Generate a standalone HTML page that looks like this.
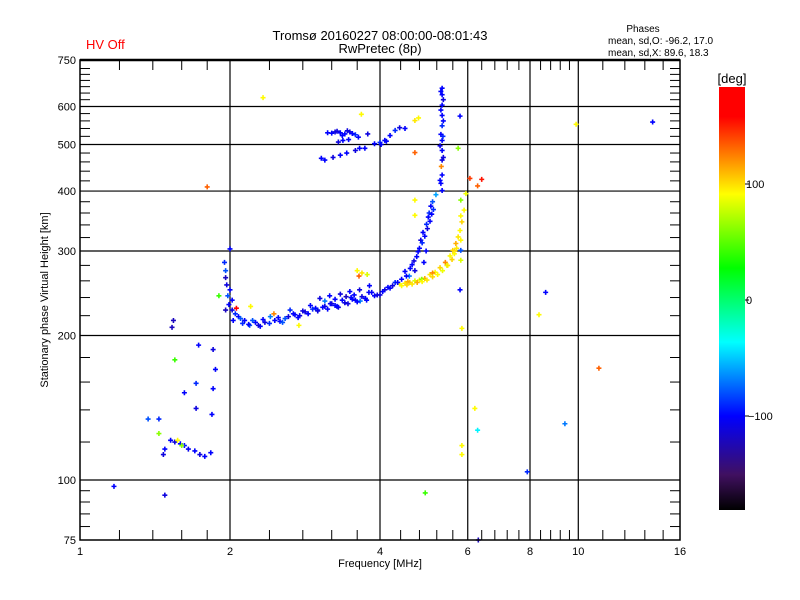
<!DOCTYPE html>
<html><head><meta charset="utf-8"><style>
body{margin:0;background:#fff;}
svg{display:block;font-family:"Liberation Sans","DejaVu Sans",sans-serif;}
</style></head><body>
<svg id="chart" width="800" height="600" viewBox="0 0 800 600">
<defs><linearGradient id="cb" x1="0" y1="1" x2="0" y2="0">
<stop offset="0" stop-color="#000000"/><stop offset="0.083" stop-color="#401060"/><stop offset="0.222" stop-color="#0000ff"/><stop offset="0.397" stop-color="#00ffff"/><stop offset="0.572" stop-color="#00ff00"/><stop offset="0.747" stop-color="#ffff00"/><stop offset="0.93" stop-color="#ff0000"/><stop offset="1" stop-color="#ff0000"/>
</linearGradient></defs>
<text x="86" y="49" font-size="13" fill="#ff0000">HV Off</text>
<text x="380" y="40" font-size="13" text-anchor="middle">Tromsø 20160227 08:00:00-08:01:43</text>
<text x="380" y="53" font-size="13" text-anchor="middle">RwPretec (8p)</text>
<text x="643" y="32" font-size="10" text-anchor="middle">Phases</text>
<text x="608" y="44" font-size="10">mean, sd,O: -96.2, 17.0</text>
<text x="608" y="56" font-size="10">mean, sd,X:  89.6, 18.3</text>
<g id="grid"></g>
<g id="ticks"></g>
<g id="marks"></g>
<rect x="80" y="60" width="600" height="480" fill="none" stroke="#000" stroke-width="1.5"/>
<line x1="80" y1="60" x2="680" y2="60" stroke="#000" stroke-width="2.5"/>
<text x="380" y="567" font-size="11" text-anchor="middle">Frequency [MHz]</text>
<text transform="translate(48,300) rotate(-90)" font-size="11" text-anchor="middle">Stationary phase Virtual Height [km]</text>
<rect x="719" y="87" width="26" height="423" fill="url(#cb)"/>
<text x="732" y="83" font-size="13" text-anchor="middle">[deg]</text>
<g id="cbticks"></g>
</svg>
<script>
const xTicks=[1,2,4,6,8,10,16];
const xGrid=[2,4,6,8,10];
const xMinor=[1.2,1.4,1.6,1.8,2.4,2.8,3.2,3.6,4.4,4.8,5.2,5.6,6.4,6.8,7.2,7.6,8.4,8.8,9.2,9.6,11.2,12.4,13.6,14.8];
const yTicks=[75,100,200,300,400,500,600,750];
const yGrid=[100,200,300,400,500,600];
const yMinor=[80,85,90,95,120,140,160,180,220,240,260,280,320,340,360,380,420,440,460,480,520,540,560,580,620,640,660,680,700,720];
const cbLabels=[100,0,-100];
const freqs=[1.52,1.55,1.59,1.62,1.65,1.70,1.74,1.78,1.48,1.47,1.57,1.60,1.83,1.44,1.44,1.73,1.85,1.87,1.85,1.71,1.71,1.84,1.62,1.37,1.54,1.53,1.55,1.17,1.48,4.93,7.9,6.3,
1.95,1.96,1.96,2.0,2.02,1.98,1.99,2.02,2.05,2.08,2.1,2.0,1.9,1.96,2.03,1.97,2.06,2.12,
2.14,2.25,2.35,2.46,2.58,2.7,2.83,2.97,3.1,3.25,3.4,3.57,3.74,3.9,4.09,4.19,4.29,2.19,2.3,2.41,2.52,2.64,2.76,2.9,3.0,3.18,3.3,3.5,3.65,3.8,4.0,
3.03,3.17,3.33,3.48,3.64,3.81,3.1,3.25,3.42,3.55,
4.49,4.64,4.77,4.83,4.88,4.96,5.0,5.06,5.1,5.18,4.9,4.7,4.58,4.95,5.02,
5.33,5.33,5.33,5.33,5.33,5.33,5.33,5.33,5.33,5.33,5.28,5.28,5.31,5.35,
3.6,3.68,3.77,3.63,4.38,4.49,4.59,4.7,4.8,4.92,5.04,5.16,5.28,5.41,5.53,5.6,5.68,5.74,5.79,5.84,5.9,5.95,4.55,4.85,5.1,5.45,5.65,
5.81,5.81,5.81,5.81,5.81,
3.14,3.25,3.33,3.4,3.48,3.57,3.37,3.1,3.22,3.33,3.43,3.57,3.64,3.73,3.9,4.0,4.09,4.19,4.29,4.38,4.49,3.05,
2.33,1.8,6.06,6.4,6.28,8.6,8.34,11,9.9,14.1,9.4,6.2,6.28,5.84,5.84,5.84,5.79,4.7,4.7,4.7,4.7,4.78,5.79,5.74,3.67,2.2,2.45,2.75,
2.18,2.22,2.28,2.33,2.4,2.5,2.55,2.62,2.68,2.74,2.8,2.87,2.93,3.0,3.07,3.14,3.2,3.28,3.36,3.45,3.52,3.6,3.68,3.76,3.85,3.95,4.05,4.15,4.24,4.34,4.42,
4.52,4.6,4.68,4.74,4.8,4.86,4.92,4.98,5.04,5.08,5.12,
4.42,4.53,4.64,4.75,4.86,4.97,5.1,5.22,5.34,5.47,5.58,5.64,5.7,
3.2,3.28,3.36,3.44,3.52,3.3,3.46,3.62,3.78,4.02,4.12,
5.3,5.36,5.3,5.36,5.3,5.36,5.3];
const heights=[121,120,119,118,116,115,113,112,116,113,121,118,114,134,125,191,187,170,155,159,141,137,152,134,215,208,178,97,93,94,104,75,
284,273,264,249,237,242,232,226,222,219,217,303,242,226,215,255,228,212,
215,213,213,215,217,221,224,228,230,231,234,237,239,242,249,251,258,210,209,219,214,226,220,231,226,233,229,240,236,246,243,
239,242,244,247,249,254,236,238,241,243,
272,281,299,316,328,341,353,372,380,393,284,273,266,300,360,
401,432,464,486,510,547,575,604,635,655,421,497,450,520,
273,270,268,266,256,257,258,260,261,263,268,271,277,284,293,301,311,321,331,345,365,395,259,262,270,280,300,
383,355,316,301,287,
529,531,529,526,531,524,510,464,470,475,480,486,491,491,502,505,510,522,535,542,540,468,
626,408,425,423,410,246,221,171,551,557,131,141,127,118,113,207,249,356,383,481,561,568,573,491,578,230,222,210,
211,215,210,216,212,218,213,219,222,218,225,222,227,225,229,227,233,230,237,233,238,235,241,237,246,243,247,252,254,258,262,
266,276,286,292,304,312,322,334,346,358,366,
254,255,256,258,259,261,265,268,273,280,288,296,304,
528,533,522,534,527,506,512,518,526,500,508,
415,470,525,560,590,620,645];
const phases=[-100,-110,-100,-95,-105,-100,-110,-100,-100,-110,90,60,-100,-90,60,-100,-110,-100,-100,-90,-110,-100,-100,-80,-120,-120,40,-100,-110,40,-90,-120,
-90,-80,-120,-100,-100,-80,-100,-110,-90,-100,-80,-100,40,-120,-100,-110,175,-90,
-100,-100,-110,-100,-80,-100,-110,-100,-110,-100,-110,-100,-100,-100,-110,-100,-90,-80,-100,-70,-100,-90,-110,-100,-90,-100,-110,-100,-70,-100,-110,
-110,-100,-110,-100,-110,-100,-70,-100,-120,-100,
-100,-100,-100,-110,-100,-90,-100,-100,-80,-60,-100,-110,-70,-100,-90,
-100,-100,-110,-100,-100,-90,-100,-100,-100,-100,-100,-110,120,-90,
90,95,80,130,90,95,100,80,90,110,95,90,100,120,90,100,110,95,90,100,90,85,110,60,120,80,100,
60,90,90,-80,80,
-100,-110,-100,-100,-110,-90,-100,-100,-110,-100,-100,-110,-100,-100,-100,-90,-100,-100,-90,-110,-100,-100,
90,130,140,150,130,-100,90,130,90,-100,-70,90,-40,90,90,90,-100,90,90,130,95,90,-100,60,90,90,120,90,
-100,-80,-110,-100,-90,-100,-80,-110,-100,-100,-110,-100,-90,-110,-100,-100,-110,-100,-100,-110,-100,-100,-110,-100,-100,-110,-100,-100,-110,-100,-100,
-100,-100,-110,-100,-100,-90,-100,-110,-100,-100,-90,
90,100,95,110,90,95,100,90,85,95,100,90,95,
-100,-110,-100,-110,-100,-110,-100,-100,-110,-100,-100,
-100,-110,-100,-100,-100,-110,-100];
const X0=80,X1=680,Y0=540,Y1=60;
function xs(f){return X0+(X1-X0)*Math.log2(f)/4;}
function ys(h){return Y0-(Y0-Y1)*Math.log10(h/75);}
function cbY(p){return 300-1.16*p;}
const stops=[[-180,[0,0,0]],[-150,[64,16,96]],[-100,[0,0,255]],[-37,[0,255,255]],[26,[0,255,0]],[89,[255,255,0]],[155,[255,0,0]],[180,[255,0,0]]];
function col(p){for(let i=0;i<stops.length-1;i++){const a=stops[i],b=stops[i+1];if(p<=b[0]){const t=Math.max(0,(p-a[0])/(b[0]-a[0]));const c=a[1].map((v,k)=>Math.round(v+(b[1][k]-v)*t));return 'rgb('+c.join(',')+')';}}return 'rgb(255,0,0)';}
const NS='http://www.w3.org/2000/svg';
function mk(tag,attrs,parent){const e=document.createElementNS(NS,tag);for(const k in attrs)e.setAttribute(k,attrs[k]);parent.appendChild(e);return e;}
const grid=document.getElementById('grid'),ticks=document.getElementById('ticks'),marks=document.getElementById('marks'),cbt=document.getElementById('cbticks');
xGrid.forEach(f=>{const l=mk('line',{x1:xs(f),x2:xs(f),y1:Y1,y2:Y0,stroke:'#000','stroke-width':1.2},grid);

});
yGrid.forEach(h=>{const l=mk('line',{x1:X0,x2:X1,y1:ys(h),y2:ys(h),stroke:'#000','stroke-width':1.2},grid);

});
xMinor.forEach(f=>{const x=xs(f);mk('line',{x1:x,x2:x,y1:Y0,y2:Y0-10,stroke:'#000'},ticks);mk('line',{x1:x,x2:x,y1:Y1,y2:Y1+10,stroke:'#000'},ticks);});
yMinor.forEach(h=>{const y=ys(h);mk('line',{x1:X0,x2:X0+10,y1:y,y2:y,stroke:'#000'},ticks);mk('line',{x1:X1,x2:X1-10,y1:y,y2:y,stroke:'#000'},ticks);});
xTicks.forEach(f=>{const t=mk('text',{x:xs(f),y:Y0+15,'font-size':11,'text-anchor':'middle'},ticks);t.textContent=f;

});
yTicks.forEach(h=>{const t=mk('text',{x:X0-4,y:ys(h)+4,'font-size':11,'text-anchor':'end'},ticks);t.textContent=h;

});
cbLabels.forEach(p=>{const y=cbY(p);mk('line',{x1:745,x2:749,y1:y,y2:y,stroke:'#000'},cbt);const t=mk('text',{x:p<0?748:746,y:y+4,'font-size':11},cbt);t.textContent=p<0?'\u2212'+(-p):p;

});
for(let i=0;i<freqs.length;i++){const x=xs(freqs[i]),y=ys(heights[i]);
const p=mk('path',{d:'M'+(x-2.5)+' '+y+'h5M'+x+' '+(y-2.5)+'v5',stroke:col(phases[i]),'stroke-width':1.6},marks);

}
</script>
</body></html>
